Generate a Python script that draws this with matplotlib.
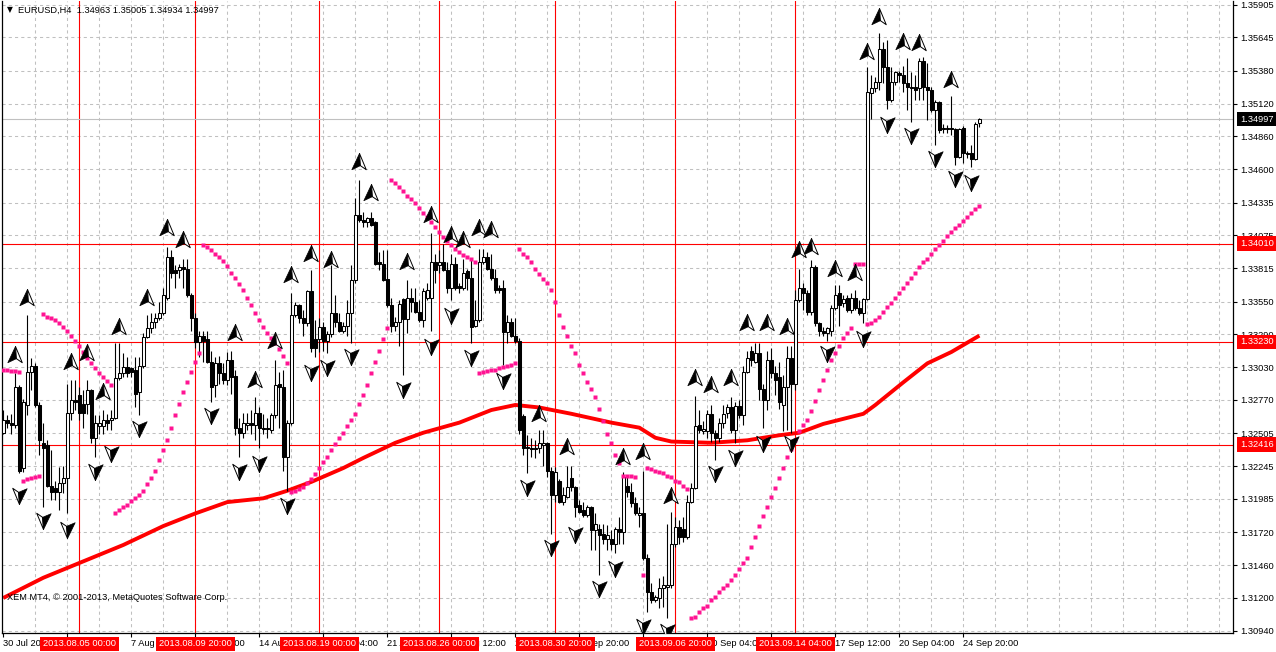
import numpy as np
import matplotlib
matplotlib.use("Agg")
import matplotlib.pyplot as plt
from matplotlib.path import Path
from matplotlib.transforms import blended_transform_factory

plt.rcParams["font.family"] = ["Liberation Sans", "DejaVu Sans"]
plt.rcParams["font.size"] = 6.7

# EURUSD H4 bars, prices given in pips above 1.3000
open_pips = [
    251, 261, 259, 257, 287, 223, 273, 299, 304, 273,
    243, 241, 209, 207, 204, 211, 215, 267, 277, 281,
    274, 274, 285, 247, 256, 256, 261, 261, 263, 294,
    298, 303, 302, 301, 283, 304, 327, 334, 339, 342,
    346, 358, 390, 380, 380, 382, 381, 360, 342, 323,
    328, 325, 307, 289, 306, 298, 293, 309, 296, 255,
    251, 257, 259, 257, 267, 255, 255, 253, 265, 290,
    287, 232, 259, 344, 352, 342, 338, 363, 325, 325,
    335, 324, 329, 346, 339, 332, 336, 346, 372, 424,
    420, 418, 421, 418, 386, 385, 373, 352, 336, 339,
    357, 341, 358, 355, 347, 340, 358, 358, 386, 384,
    386, 380, 366, 385, 367, 366, 379, 374, 336, 340,
    386, 390, 381, 374, 366, 366, 331, 339, 328, 324,
    264, 240, 239, 239, 239, 241, 243, 221, 202, 213,
    196, 200, 215, 208, 194, 190, 186, 192, 174, 175,
    171, 167, 167, 163, 175, 172, 209, 204, 195, 186,
    187, 152, 125, 118, 120, 128, 129, 130, 163, 176,
    175, 168, 196, 207, 257, 252, 252, 266, 251, 247,
    259, 267, 271, 253, 272, 265, 299, 316, 307, 314,
    286, 277, 309, 298, 295, 273, 287, 310, 290, 356,
    366, 362, 347, 382, 338, 332, 330, 332, 350, 362,
    354, 358, 348, 358, 350, 346, 357, 520, 524, 529,
    555, 541, 515, 529, 536, 535, 528, 525, 525, 524,
    546, 525, 523, 507, 513, 493, 493, 493, 492, 470,
    493, 473, 473, 468, 496.3,
]
high_pips = [
    269, 265, 266, 298, 289, 278, 344, 310, 306, 275,
    259, 245, 237, 213, 224, 225, 290, 293, 293, 287,
    285, 293, 286, 265, 265, 269, 266, 269, 322, 322,
    314, 311, 303, 311, 311, 330, 344, 346, 346, 355,
    366, 398, 396, 384, 385, 389, 389, 362, 346, 332,
    332, 332, 316, 311, 312, 306, 315, 316, 301, 263,
    267, 267, 269, 279, 271, 266, 263, 267, 309, 299,
    301, 261, 362, 355, 353, 348, 364, 380, 340, 342,
    339, 332, 384, 360, 346, 339, 356, 384, 437, 451,
    426, 422, 426, 419, 394, 396, 396, 358, 343, 356,
    358, 372, 366, 366, 356, 366, 370, 409, 393, 396,
    401, 386, 393, 390, 370, 389, 381, 389, 356, 397,
    397, 394, 393, 381, 368, 372, 344, 342, 342, 326,
    266, 249, 247, 245, 253, 253, 244, 224, 224, 214,
    208, 225, 225, 209, 198, 196, 194, 193, 187, 179,
    179, 178, 174, 176, 184, 220, 216, 211, 200, 192,
    221, 155, 132, 122, 136, 137, 179, 188, 184, 182,
    184, 202, 211, 280, 269, 260, 269, 273, 253, 263,
    273, 274, 279, 275, 277, 304, 316, 320, 322, 322,
    290, 316, 318, 304, 307, 297, 320, 320, 364, 381,
    370, 364, 388, 384, 339, 335, 335, 352, 368, 368,
    360, 360, 362, 364, 356, 358, 541, 535, 533, 568,
    561, 562, 541, 538, 538, 542, 548, 537, 535, 548,
    549, 544, 525, 515, 514, 496, 495, 518, 493, 493,
    494, 474, 479, 497, 500.5,
]
low_pips = [
    250, 255, 250, 255, 219, 220, 265, 285, 271, 233,
    192, 208, 198, 198, 190, 203, 187, 261, 269, 261,
    255, 266, 243, 232, 250, 250, 253, 253, 262, 293,
    295, 295, 295, 271, 265, 302, 326, 330, 334, 340,
    344, 356, 374, 366, 374, 366, 359, 332, 318, 311,
    307, 306, 275, 279, 290, 290, 289, 282, 249, 232,
    247, 253, 250, 245, 239, 250, 247, 251, 263, 255,
    221, 205, 257, 343, 338, 328, 336, 315, 311, 315,
    316, 314, 327, 335, 331, 330, 328, 322, 370, 418,
    414, 414, 415, 384, 380, 371, 351, 331, 332, 320,
    297, 330, 347, 346, 339, 335, 356, 332, 370, 378,
    379, 362, 356, 364, 362, 364, 364, 322, 335, 339,
    385, 380, 372, 362, 362, 305, 322, 327, 322, 250,
    233, 219, 232, 231, 235, 225, 216, 171, 196, 195,
    194, 199, 205, 184, 187, 184, 184, 158, 158, 138,
    163, 158, 158, 156, 163, 163, 200, 192, 186, 176,
    150, 109, 116, 117, 112, 113, 104, 128, 160, 163,
    164, 167, 195, 206, 251, 250, 247, 244, 229, 244,
    255, 263, 251, 243, 263, 257, 298, 304, 306, 277,
    255, 269, 294, 281, 270, 252, 253, 251, 285, 355,
    348, 344, 344, 336, 328, 328, 324, 328, 348, 336,
    351, 347, 346, 348, 344, 338, 356, 500, 521, 523,
    528, 508, 513, 527, 529, 521, 507, 497, 515, 515,
    515, 499, 505, 479, 489, 489, 489, 487, 463, 469,
    465, 469, 462, 467, 493.4,
]
close_pips = [
    261, 259, 257, 287, 221, 275, 299, 304, 273, 245,
    239, 209, 204, 204, 211, 215, 267, 277, 275, 267,
    267, 285, 247, 259, 259, 261, 259, 263, 294, 298,
    303, 298, 299, 282, 304, 327, 334, 339, 342, 346,
    360, 390, 378, 378, 382, 381, 360, 342, 323, 328,
    324, 307, 287, 306, 298, 293, 309, 295, 255, 251,
    259, 259, 257, 267, 255, 254, 254, 265, 289, 287,
    232, 259, 344, 352, 342, 338, 363, 318, 318, 335,
    324, 329, 346, 339, 332, 336, 346, 372, 424, 420,
    418, 421, 416, 385, 385, 372, 352, 336, 339, 353,
    341, 358, 355, 347, 340, 363, 364, 386, 380, 386,
    380, 366, 385, 366, 366, 378, 374, 335, 340, 386,
    390, 381, 374, 364, 364, 331, 339, 328, 324, 253,
    239, 239, 238, 238, 243, 243, 221, 202, 220, 196,
    202, 208, 208, 192, 188, 186, 192, 174, 179, 170,
    167, 170, 163, 175, 172, 216, 204, 195, 187, 187,
    152, 125, 118, 121, 128, 130, 130, 163, 176, 168,
    168, 196, 207, 256, 253, 254, 266, 251, 247, 259,
    266, 271, 253, 272, 265, 299, 310, 309, 314, 286,
    277, 309, 298, 293, 275, 287, 310, 290, 356, 366,
    362, 347, 382, 338, 332, 330, 334, 350, 360, 352,
    357, 348, 358, 350, 346, 357, 521, 524, 529, 555,
    541, 515, 529, 537, 535, 528, 525, 524, 523, 546,
    525, 523, 507, 513, 491, 492, 492, 492, 470, 492,
    473, 472, 468, 496, 499.7,
]

# parabolic SAR, one dot per bar (pips above 1.3000)
sar_pips = (
    [301, 301, 300, 300, 299]
    + [213, 214, 215, 216, 217]
    + [345, 343, 342, 340, 338, 335, 332, 328, 324, 320, 315, 310, 306, 302, 298, 295, 292, 289]
    + [187, 190, 192, 194, 197, 199, 202, 205, 210, 215, 221, 229, 237, 245, 255, 265, 274, 283, 291, 299, 307, 314]
    + [400, 398, 396, 393, 390, 387, 383, 378, 374, 369, 364, 358, 352, 346, 340, 335, 330, 326, 322, 317, 312, 306]
    + [204, 205, 206, 208, 211, 214, 218, 223, 228, 232, 237, 242, 247, 251, 256, 261, 266, 274, 281, 289, 298, 307, 316, 325, 334]
    + [451, 449, 446, 443, 439, 436, 433, 429, 425, 422, 418, 414, 410, 406, 403, 400, 397, 394, 392, 390, 389, 386]
    + [298, 299, 300, 301, 301, 302, 303, 304, 305, 306]
    + [397, 393, 390, 386, 381, 377, 373, 370, 364, 355, 344, 335, 328, 320, 314, 305, 298, 291, 286, 279, 270, 260, 250, 243, 233, 227]
    + [217, 217, 217, 216, None, 138]
    + [223, 222, 221, 220, 219, 217, 216, 213, 212, 209, 206]
    + [104, 105, 109, 112, 114, 118, 121, 125, 128, 130, 134, 138, 143, 148, 152, 160, 168, 177, 185, 192,
       200, 207, 215, 223, 232, 238, 245, 252, 257, 261, 268, 276, 285, 293, 301, 309, 314, 320, 326, 330, 334]
    + [385, 385, 385]
    + [337, 338, 340, 343, 347, 351, 354, 358, 362, 366, 370, 374, 378, 382, 386, 389, 393, 397, 400, 403,
       407, 410, 413, 416, 419, 422, 425, 428, 431]
)

# moving average (red line)
ma_bars = [0, 10, 20, 30, 40, 48, 56, 65, 71, 77, 85, 90, 98, 105, 114, 122, 128, 134, 142, 152,
           159, 163, 167, 177, 186, 194, 199, 205, 215, 218, 225, 231, 237, 244]
ma_pips = [120, 136, 149, 162, 177, 187, 196, 199, 205, 212, 223, 231, 243, 251, 259, 269, 273, 271, 266, 259,
           255, 247, 244, 243, 245, 249, 251, 258, 266, 273, 291, 306, 315, 328]

# fractal-style arrows
up_bars = [6, 3, 17, 21, 25, 29, 36, 41, 45, 58, 63, 68, 72, 77, 82, 89, 92, 101, 107, 112, 115, 119,
           122, 134, 141, 155, 160, 167, 173, 177, 182, 186, 191, 196, 199, 202, 208, 213, 216, 219, 225, 229, 237]
up_pips = [358, 313, 307, 314, 283, 335, 358, 413, 404, 330, 293, 324, 376, 393, 388, 466, 441, 386, 424, 408,
           404, 413, 412, 266, 240, 232, 236, 201, 294, 289, 294, 338, 338, 335, 396, 398, 381, 378, 553, 581,
           561, 560, 531]
down_bars = [4, 10, 16, 23, 27, 34, 52, 59, 64, 71, 77, 81, 87, 100, 107, 112, 117, 125, 131, 137, 143, 149,
             153, 160, 166, 178, 183, 190, 197, 206, 215, 221, 227, 233, 238, 242]
down_pips = [202, 182, 175, 221, 235, 255, 265, 221, 227, 194, 299, 303, 312, 286, 320, 344, 311, 293, 208, 160,
             171, 128, 144, 98, 94, 219, 232, 243, 243, 314, 326, 496, 487, 469, 453, 450]

level_lines = [1.34010, 1.33230, 1.32416]
bid_price = 1.34997
date_bars = [19, 48, 79, 109, 138, 168, 198]
date_labels = ["2013.08.05 00:00", "2013.08.09 20:00", "2013.08.19 00:00", "2013.08.26 00:00",
               "2013.08.30 20:00", "2013.09.06 20:00", "2013.09.14 04:00"]
time_labels = ["30 Jul 2013", "1 Aug 16:00", "7 Aug 04:00", "9 Aug 20:00", "14 Aug 12:00", "19 Aug 04:00",
               "21 Aug 20:00", "26 Aug 12:00", "29 Aug 04:00", "2 Sep 20:00", "5 Sep 12:00", "10 Sep 04:00",
               "12 Sep 20:00", "17 Sep 12:00", "20 Sep 04:00", "24 Sep 20:00"]
price_ticks = [1.35905, 1.35645, 1.35380, 1.35120, 1.34860, 1.34600, 1.34335, 1.34075, 1.33815, 1.33550,
               1.33290, 1.33030, 1.32770, 1.32505, 1.32245, 1.31985, 1.31720, 1.31460, 1.31200, 1.30940]

base = 1.3
o = base + np.array(open_pips) / 10000
h = base + np.array(high_pips) / 10000
l = base + np.array(low_pips) / 10000
c = base + np.array(close_pips) / 10000
sar = base + np.array([np.nan if v is None else v for v in sar_pips], dtype=float) / 10000
x = np.arange(len(c))

fig = plt.figure(figsize=(12.76, 6.52), dpi=100)
ax = fig.add_axes([2.5 / 1276, 19 / 652, 1230.5 / 1276, 632 / 652])

grid_kw = dict(color="#c0c0c0", linestyle=(0, (3, 3)), linewidth=0.75)
for v in price_ticks:
    ax.axhline(v, zorder=0, **grid_kw)
for b in range(8, 308, 8):
    ax.axvline(b, zorder=0, **grid_kw)

for v in level_lines:
    ax.axhline(v, color="red", lw=0.8, zorder=1)
for b in date_bars:
    ax.axvline(b, color="red", lw=0.8, zorder=1)
ax.axhline(bid_price, color="#c0c0c0", lw=0.8, zorder=1)

ax.plot(ma_bars, base + np.array(ma_pips) / 10000, color="red", lw=2.8, zorder=2,
        solid_capstyle="butt")

# candles
up = c >= o
ax.vlines(x, l, h, color="black", lw=0.8, zorder=3)
body = np.maximum(np.abs(c - o), 0.00002)
ax.bar(x[up], body[up], bottom=o[up], width=0.62, color="white", edgecolor="black",
       linewidth=0.75, zorder=4)
ax.bar(x[~up], body[~up], bottom=c[~up], width=0.62, color="black", edgecolor="black",
       linewidth=0.75, zorder=4)

ax.plot(x, sar, ls="none", marker="s", ms=3.3, color="#ff1493", mec="none", zorder=5)

# arrow markers, two facets each
up_left = Path([(0, 1), (-0.85, -0.8), (0.1, -0.35), (0, 1)],
               [Path.MOVETO, Path.LINETO, Path.LINETO, Path.CLOSEPOLY])
up_right = Path([(0, 1), (0.1, -0.35), (0.75, -0.8), (0, 1)],
                [Path.MOVETO, Path.LINETO, Path.LINETO, Path.CLOSEPOLY])
dn_left = Path([(0, -1), (-0.75, 0.8), (-0.1, 0.35), (0, -1)],
               [Path.MOVETO, Path.LINETO, Path.LINETO, Path.CLOSEPOLY])
dn_right = Path([(0, -1), (-0.1, 0.35), (0.85, 0.75), (0, -1)],
                [Path.MOVETO, Path.LINETO, Path.LINETO, Path.CLOSEPOLY])

uy = base + np.array(up_pips) / 10000
dy = base + np.array(down_pips) / 10000
ax.plot(up_bars, uy, ls="none", marker=up_left, ms=13, mfc="black", mec="black", mew=0.5, zorder=6)
ax.plot(up_bars, uy, ls="none", marker=up_right, ms=13, mfc="white", mec="black", mew=0.7, zorder=6)
ax.plot(down_bars, dy, ls="none", marker=dn_left, ms=13, mfc="white", mec="black", mew=0.7, zorder=6)
ax.plot(down_bars, dy, ls="none", marker=dn_right, ms=13, mfc="black", mec="black", mew=0.5, zorder=6)

ax.set_xlim(-0.2, 307.4)
ax.set_ylim(1.30922, 1.35933)

ax.yaxis.tick_right()
ax.set_yticks(price_ticks)
ax.set_yticklabels([f"{v:.5f}" for v in price_ticks])
ax.tick_params(axis="y", direction="out", length=3, width=0.8, pad=2, labelsize=6.7)
ax.set_xticks(np.arange(0, 241, 16))
ax.tick_params(axis="x", direction="out", length=3, width=0.8, labelbottom=False)
ax.spines["top"].set_visible(False)
for s in ["left", "right", "bottom"]:
    ax.spines[s].set_linewidth(0.9)

xt = blended_transform_factory(ax.transData, ax.transAxes)
for b, lab in zip(np.arange(0, 241, 16), time_labels):
    ax.text(b, -0.0174, lab, transform=xt, ha="left", va="center", fontsize=6.7,
            clip_on=False, zorder=7)
for b, lab in zip(date_bars, date_labels):
    ax.text(b, -0.0174, lab, transform=xt, ha="center", va="center", fontsize=6.7, color="white",
            clip_on=False, zorder=8,
            bbox=dict(boxstyle="square,pad=0.3", fc="red", ec="none"))

yt = blended_transform_factory(ax.transAxes, ax.transData)
ax.text(1.0057, bid_price, f"{bid_price:.5f}", transform=yt, ha="left", va="center", fontsize=6.7,
        color="white", clip_on=False, zorder=8,
        bbox=dict(boxstyle="square,pad=0.3", fc="black", ec="none"))
for v in level_lines:
    ax.text(1.0057, v, f"{v:.5f}", transform=yt, ha="left", va="center", fontsize=6.7,
            color="white", clip_on=False, zorder=8,
            bbox=dict(boxstyle="square,pad=0.3", fc="red", ec="none"))

fig.text(10 / 1276, 1 - 10 / 652, "▼", fontsize=5.5, va="center", ha="center", family="DejaVu Sans")
fig.text(18 / 1276, 1 - 10 / 652, "EURUSD,H4  1.34963 1.35005 1.34934 1.34997",
         fontsize=6.7, va="center", ha="left")
fig.text(7 / 1276, 1 - 598 / 652, "XEM MT4, © 2001-2013, MetaQuotes Software Corp.",
         fontsize=6.7, va="center", ha="left")

fig.savefig("out.png", dpi=100, facecolor="white")
